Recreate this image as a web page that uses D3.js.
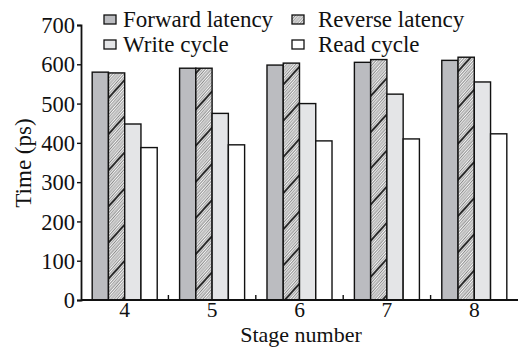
<!DOCTYPE html>
<html>
<head>
<meta charset="utf-8">
<script src="https://cdn.jsdelivr.net/npm/d3@7"></script>
<style>
  body { margin: 0; background: #fff; }
  svg text { font-family: "Liberation Serif", "Times New Roman", Times, serif !important; fill: #111; }
</style>
</head>
<body>
<div id="chart"></div>
<script>
// data
const stages = ['4', '5', '6', '7', '8'];
const seriesNames = ['Forward latency', 'Reverse latency', 'Write cycle', 'Read cycle'];
const forward = [580, 590, 598, 605, 610];
const reverse = [578, 590, 603, 612, 618];
const write = [448, 475, 500, 524, 555];
const read = [388, 395, 405, 410, 423];
const yTicks = [0, 100, 200, 300, 400, 500, 600, 700];

const allSeries = [forward, reverse, write, read];
const fills = ['#bbbcc0', 'url(#hatch)', '#e4e5e7', '#ffffff'];
const serif = '"Liberation Serif", "Times New Roman", serif';

var width = 519;
var height = 350;
var margin = {left: 81, right: 1, top: 25, bottom: 50};

var svg = d3.select('#chart')
  .append('svg')
    .attr('width', width)
    .attr('height', height)
    .attr('font-family', serif);

// hatch pattern: thin grey diagonals, every 11th one dark and thick
var defs = svg.append('defs');
var pat = defs.append('pattern')
    .attr('id', 'hatch')
    .attr('patternUnits', 'userSpaceOnUse')
    .attr('width', 40)
    .attr('height', 24.2)
    .attr('patternTransform', 'rotate(-48)');
pat.append('rect').attr('width', 40).attr('height', 24.2).attr('fill', '#f4f4f4');
for (var i = 0; i < 11; i++) {
  pat.append('line')
      .attr('x1', 0).attr('x2', 40)
      .attr('y1', i * 2.2 + 1).attr('y2', i * 2.2 + 1)
      .attr('stroke', i === 0 ? '#2a2a2a' : '#8a8a8a')
      .attr('stroke-width', i === 0 ? 1.8 : 1.0);
}

var x = d3.scaleBand()
    .domain(stages)
    .range([margin.left, width - margin.right])
    .paddingInner(0.256)
    .paddingOuter(0.128);

var xs = d3.scaleBand()
    .domain(d3.range(allSeries.length))
    .range([0, x.bandwidth()]);

var y = d3.scaleLinear()
    .domain([0, 700])
    .range([height - margin.bottom, margin.top]);

// bars
allSeries.forEach(function(vals, s) {
  svg.append('g')
    .selectAll('rect')
    .data(vals)
    .enter()
    .append('rect')
      .attr('x', function(d, i) { return x(stages[i]) + xs(s); })
      .attr('y', function(d) { return y(d); })
      .attr('width', xs.bandwidth())
      .attr('height', function(d) { return y(0) - y(d); })
      .attr('fill', fills[s])
      .attr('stroke', '#111')
      .attr('stroke-width', 1.4);
});

// y axis
var yAxis = svg.append('g')
    .attr('transform', 'translate(' + margin.left + ',0)')
    .call(d3.axisLeft(y).tickValues(yTicks).tickSize(4).tickPadding(2));
yAxis.attr('font-family', serif);
yAxis.select('.domain').attr('stroke', '#111').attr('stroke-width', 1.8);
yAxis.selectAll('.tick line').attr('stroke', '#111').attr('stroke-width', 1.4);
yAxis.selectAll('text')
    .attr('font-size', 22.5)
    .attr('dy', '0.34em')
    .attr('fill', '#111');

// x axis: line along the bottom, small inward ticks between groups
var xAxis = svg.append('g')
    .attr('transform', 'translate(0,' + y(0) + ')')
    .call(d3.axisBottom(x).tickSize(0).tickPadding(2));
xAxis.attr('font-family', serif);
xAxis.select('.domain')
    .attr('d', 'M' + margin.left + ',0H' + (width - margin.right))
    .attr('stroke', '#111').attr('stroke-width', 1.8);
xAxis.selectAll('text')
    .attr('font-size', 21.5)
    .attr('dy', '0.71em')
    .attr('fill', '#111');
var step = x.step();
xAxis.selectAll('.sep')
    .data(stages.slice(1))
    .enter()
    .append('line')
      .attr('x1', function(d) { return x(d) - step * x.paddingInner() / 2; })
      .attr('x2', function(d) { return x(d) - step * x.paddingInner() / 2; })
      .attr('y1', 0).attr('y2', -5)
      .attr('stroke', '#111').attr('stroke-width', 1.4);

// axis titles
svg.append('text')
    .attr('x', 301)
    .attr('y', 342)
    .attr('text-anchor', 'middle')
    .attr('font-size', 22)
    .text('Stage number');

svg.append('text')
    .attr('transform', 'translate(31,163) rotate(-90)')
    .attr('text-anchor', 'middle')
    .attr('font-size', 23)
    .text('Time (ps)');

// legend, two columns by two rows
var legendPos = [[104, 123, 27], [292, 318, 27], [104, 123, 52], [292, 318, 52]];
var legend = svg.append('g');
seriesNames.forEach(function(name, s) {
  var p = legendPos[s];
  legend.append('rect')
      .attr('x', p[0]).attr('y', p[2] - 12)
      .attr('width', 12).attr('height', 9)
      .attr('fill', fills[s])
      .attr('stroke', '#111')
      .attr('stroke-width', 1.3);
  legend.append('text')
      .attr('x', p[1]).attr('y', p[2])
      .attr('font-size', 23)
      .text(name);
});
</script>
</body>
</html>
